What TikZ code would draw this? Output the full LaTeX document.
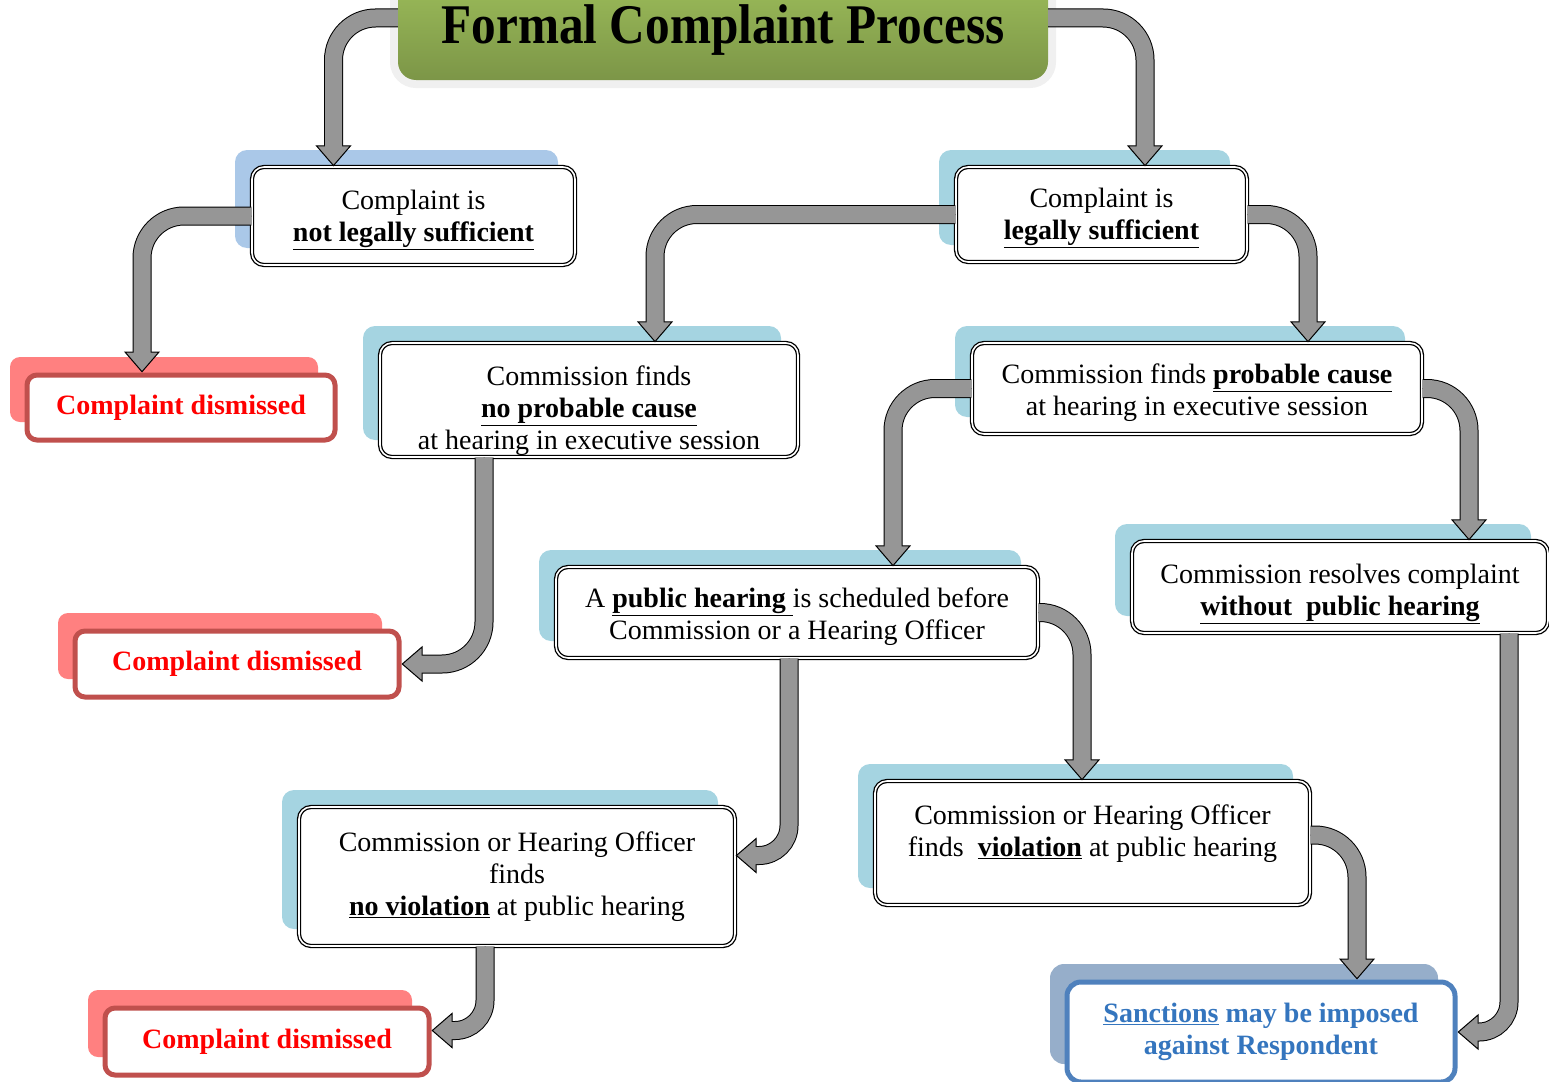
\documentclass[tikz,border=0pt]{standalone}
\usepackage{fontspec}
\setmainfont{Liberation Serif}
\newfontfamily\titlefont[FakeStretch=0.88]{Liberation Serif}
\usetikzlibrary{arrows.meta, shadows}
\definecolor{titlegreen}{RGB}{155, 187, 89}
\definecolor{shadowteal}{RGB}{165, 212, 225}
\definecolor{shadowblue}{RGB}{170, 200, 232}
\definecolor{deadred}{RGB}{192, 80, 77}
\definecolor{deadshadow}{RGB}{255, 128, 128}
\definecolor{sanctionblue}{RGB}{79, 129, 189}
\definecolor{sanctiontext}{RGB}{52, 117, 190}
\definecolor{sanctionshadow}{RGB}{150, 174, 202}
\definecolor{flowgray}{RGB}{150, 150, 150}

\begin{document}
\begin{tikzpicture}[
    x=1pt, y=-1pt,
    headline/.style={top color=titlegreen, middle color=titlegreen, bottom color=titlegreen!80!black,
        rounded corners=18pt, minimum width=650, minimum height=100,
        preaction={draw=black!6, line width=16pt}, font=\titlefont\fontsize{56}{60}\selectfont\bfseries},
    stepbox/.style={draw, double=white, double distance=1.6pt, line width=1.3pt, fill=white,
        rounded corners=12pt, align=center, font=\fontsize{28}{32}\selectfont, text height=59pt,
        general shadow={fill=#1, shadow xshift=-17pt, shadow yshift=17pt}},
    stepbox/.default=shadowteal,
    deadend/.style={draw=deadred, line width=5pt, fill=white, rounded corners=10pt, text=red,
        font=\fontsize{28}{32}\selectfont\bfseries,
        general shadow={fill=deadshadow, shadow xshift=-17pt, shadow yshift=18pt}},
    outcome/.style={draw=sanctionblue, line width=5pt, fill=white, rounded corners=14pt, text=sanctiontext,
        align=center, font=\fontsize{28}{32}\selectfont\bfseries,
        general shadow={fill=sanctionshadow, shadow xshift=-17pt, shadow yshift=18pt}},
    flow/.style={line width=1pt, -{Triangle[length=21pt, width=36pt, fill=flowgray]}, rounded corners=42pt,
        preaction={draw=black, line width=19pt, arrows=-, shorten >=20pt},
        postaction={draw=flowgray, line width=17pt, arrows=-, shorten >=19pt}}
]
    \useasboundingbox (0,0) rectangle (1549,1081);

    % Title
    \node[headline] (title) at (723, 30) {Formal Complaint Process};

    % Findings
    \node[stepbox=shadowblue, minimum width=323, minimum height=98] (notlegal) at (413.5, 216)
        {Complaint is\\\underline{\textbf{not legally sufficient}}};
    \node[stepbox, minimum width=291, minimum height=95] (legal) at (1101.5, 214.5)
        {Complaint is\\\underline{\textbf{legally sufficient}}};
    \node[stepbox, text height=106pt, inner ysep=0pt, minimum width=418, minimum height=114] (noprob) at (589, 400)
        {Commission finds\\\underline{\textbf{no probable cause}}\\at hearing in executive session};
    \node[stepbox, text height=61pt, minimum width=450, minimum height=91] (prob) at (1197, 388.5)
        {Commission finds \underline{\textbf{probable cause}}\\at hearing in executive session};
    \node[stepbox, text height=61pt, minimum width=482, minimum height=91] (public) at (797, 612.5)
        {A \underline{\textbf{public hearing }}is scheduled before\\Commission or a Hearing Officer};
    \node[stepbox, text height=65pt, minimum width=416, minimum height=92] (resolves) at (1340, 587)
        {Commission resolves complaint\\\underline{\textbf{without\ \ public hearing}}};
    \node[stepbox, text height=84pt, minimum width=436, minimum height=139] (noviol) at (517, 876.5)
        {Commission or Hearing Officer\\finds\\\underline{\textbf{no violation}} at public hearing};
    \node[stepbox, text height=57pt, minimum width=435, minimum height=124, text depth=30pt] (viol) at (1092.5, 843)
        {Commission or Hearing Officer\\finds\ \ \underline{\textbf{violation}} at public hearing};

    % Outcomes
    \node[deadend, minimum width=308, minimum height=65] (dismissA) at (181, 407.5) {Complaint dismissed};
    \node[deadend, minimum width=324, minimum height=66] (dismissB) at (237, 664) {Complaint dismissed};
    \node[deadend, minimum width=324, minimum height=67] (dismissC) at (267, 1041.5) {Complaint dismissed};
    \node[outcome, minimum width=388, minimum height=100] (sanction) at (1261, 1032)
        {\underline{Sanctions} may be imposed\\against Respondent};

    % Flow
    \draw[flow] ([yshift=12pt]title.west) -| ([xshift=-80pt]notlegal.north);
    \draw[flow] ([yshift=12pt]title.east) -| ([xshift=43.5pt]legal.north);
    \draw[flow] (notlegal.west) -| ([xshift=-39pt]dismissA.north);
    \draw[flow] (legal.west) -| ([xshift=66pt]noprob.north);
    \draw[flow] (legal.east) -| ([xshift=111pt]prob.north);
    \draw[flow] (prob.west) -| ([xshift=96pt]public.north);
    \draw[flow] (prob.east) -| ([xshift=129pt]resolves.north);
    \draw[flow] ([xshift=-105pt]noprob.south) |- (dismissB.east);
    \draw[flow, rounded corners=30pt] ([xshift=-8pt]public.south) |- ([yshift=21pt]noviol.east);
    \draw[flow] (public.east) -| ([xshift=-10.5pt]viol.north);
    \draw[flow] ([yshift=8pt]viol.east) -| ([xshift=96pt]sanction.north);
    \draw[flow, rounded corners=30pt] ([xshift=169pt]resolves.south) |- (sanction.east);
    \draw[flow, rounded corners=30pt] ([xshift=-32pt]noviol.south) |- ([yshift=11pt]dismissC.east);
\end{tikzpicture}
\end{document}
